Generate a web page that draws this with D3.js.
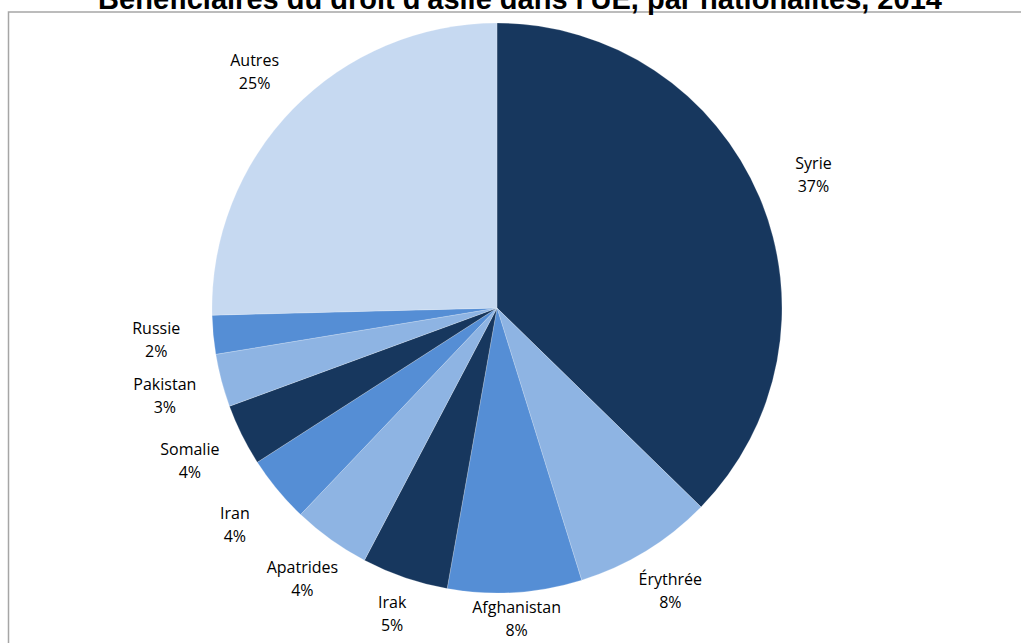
<!DOCTYPE html>
<html>
<head>
<meta charset="utf-8">
<script src="https://cdn.jsdelivr.net/npm/d3@7/dist/d3.min.js"></script>
<style>
  html, body { margin: 0; padding: 0; background: #fff; overflow: hidden; }
  svg { display: block; }
</style>
</head>
<body>
<svg id="chart" width="1021" height="643"></svg>
<script>
// ---- Data ----
const titleText = "Bénéficiaires du droit d'asile dans l'UE, par nationalités, 2014";
const categories = ["Syrie", "Érythrée", "Afghanistan", "Irak", "Apatrides", "Iran", "Somalie", "Pakistan", "Russie", "Autres"];
const shares = [37.3, 7.9, 7.6, 4.9, 4.4, 3.8, 3.5, 3.0, 2.2, 25.4];
const colors = ["#17375e", "#8eb4e3", "#558ed5", "#17375e", "#8eb4e3", "#558ed5", "#17375e", "#8eb4e3", "#558ed5", "#c6d9f1"];

// ---- Layout ----
const W = 1021, H = 643;
const cx = 497, cy = 308, R = 285;
const svg = d3.select("#chart");

// Frame
svg.append("rect")
  .attr("x", 8.5).attr("y", 12)
  .attr("width", W + 10).attr("height", H + 10)
  .attr("fill", "none").attr("stroke", "#a6a6a6").attr("stroke-width", 1.5);

// Title (top part clipped by the page edge, as in the reference)
svg.append("text")
  .attr("x", 520).attr("y", 9)
  .attr("text-anchor", "middle")
  .attr("font-family", "'Liberation Sans', Arial, sans-serif")
  .attr("font-weight", "bold")
  .attr("font-size", 29)
  .attr("fill", "#000")
  .text(titleText);

const data = categories.map((c, i) => ({ name: c, value: shares[i], color: colors[i] }));
const total = d3.sum(shares);

const pie = d3.pie().value(d => d.value).sort(null);
const arcs = pie(data);
const arc = d3.arc().innerRadius(0).outerRadius(R);

const g = svg.append("g").attr("transform", `translate(${cx},${cy})`);

g.selectAll("path.slice")
  .data(arcs)
  .enter().append("path")
  .attr("class", "slice")
  .attr("d", arc)
  .attr("fill", d => d.data.color)
  .attr("stroke", "rgba(255,255,255,0.35)")
  .attr("stroke-width", 0.6);

// Labels
const fmt = v => Math.round(v / total * 100) + "%";
const lbl = g.selectAll("g.lbl")
  .data(arcs)
  .enter().append("g")
  .attr("class", "lbl")
  .attr("transform", d => {
    const a = (d.startAngle + d.endAngle) / 2;
    const ux = Math.sin(a), uy = -Math.cos(a);
    const dist = R + 8 + Math.abs(ux) * 48 + Math.abs(uy) * 16;
    return `translate(${ux * dist},${uy * dist})`;
  });

lbl.append("text")
  .attr("text-anchor", "middle")
  .attr("font-family", "'Open Sans', 'Noto Sans', sans-serif")
  .attr("font-size", 16)
  .attr("fill", "#000")
  .attr("y", -6)
  .text(d => d.data.name);
lbl.append("text")
  .attr("text-anchor", "middle")
  .attr("font-family", "'Open Sans', 'Noto Sans', sans-serif")
  .attr("font-size", 16)
  .attr("fill", "#000")
  .attr("y", 17)
  .text(d => fmt(d.data.value));
</script>
</body>
</html>
